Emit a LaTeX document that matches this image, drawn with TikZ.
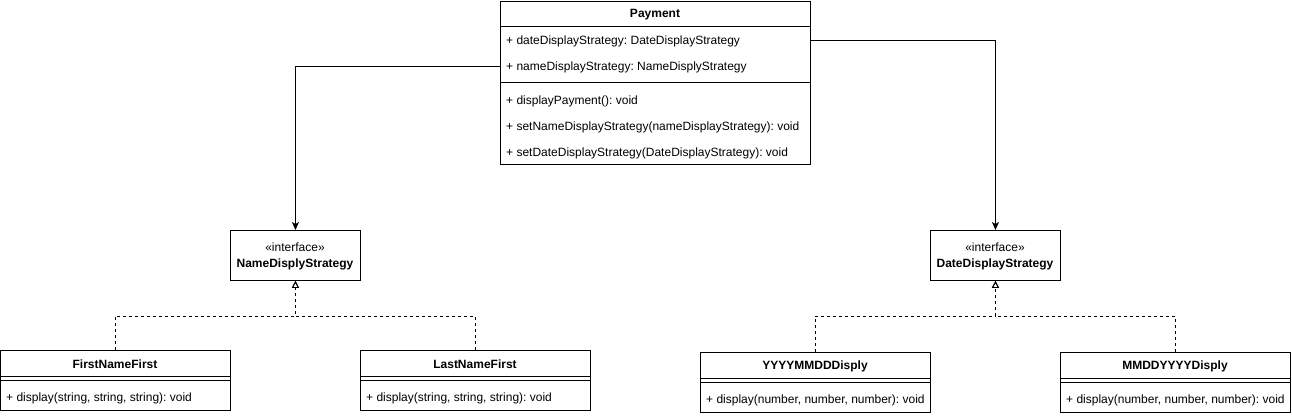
\documentclass[tikz,border=0pt]{standalone}
\usepackage{fontspec}
\setmainfont{Liberation Sans}
\usetikzlibrary{arrows.meta}
\frenchspacing
\begin{document}
\begin{tikzpicture}[x=1pt,y=-1pt,
  every node/.style={font=\fontsize{12}{13.5}\selectfont, inner sep=0pt},
  box/.style={draw, line width=0.9pt, anchor=north west, fill=white},
  sep/.style={line width=0.9pt},
  txt/.style={anchor=west},
  ttl/.style={font=\fontsize{12}{13.5}\selectfont\bfseries},
  assoc/.style={line width=0.9pt, -{Stealth[length=8pt,width=7pt,inset=2pt]}},
  realize/.style={line width=0.9pt, dashed, dash pattern=on 3pt off 3pt, -{Triangle[open,length=7pt,width=7pt]}}
]
\useasboundingbox (0,0) rectangle (1292,416);

% Payment class
\node[box, minimum width=310pt, minimum height=163.5pt] (pay) at (500,0.5) {};
\node[ttl] (payt) at (655,14.5) {Payment};
\draw[sep] (500,26) -- (810,26);
\node[txt] (pa1) at (506,41.5) {+ dateDisplayStrategy: DateDisplayStrategy};
\node[txt] (pa2) at (506,67.5) {+ nameDisplayStrategy: NameDisplyStrategy};
\draw[sep] (500,82) -- (810,82);
\node[txt] (pm1) at (506,101.5) {+ displayPayment(): void};
\node[txt] (pm2) at (506,127.5) {+ setNameDisplayStrategy(nameDisplayStrategy): void};
\node[txt] (pm3) at (506,153.5) {+ setDateDisplayStrategy(DateDisplayStrategy): void};

% Interfaces
\node[box, minimum width=130pt, minimum height=50pt] (nds) at (230,230) {};
\node[align=center] (ndst) at (295,256.5) {«interface»\\[2pt]\textbf{NameDisplyStrategy}};
\node[box, minimum width=130pt, minimum height=50pt] (dds) at (930,230) {};
\node[align=center] (ddst) at (995,256.5) {«interface»\\[2pt]\textbf{DateDisplayStrategy}};

% Concrete classes
\node[box, minimum width=230pt, minimum height=60pt] (ffn) at (0,350) {};
\node[ttl] (ffnt) at (115,364.5) {FirstNameFirst};
\draw[sep] (0,376) -- (230,376); \draw[sep] (0,380) -- (230,380);
\node[txt] (ffnm) at (6,398.5) {+ display(string, string, string): void};

\node[box, minimum width=230pt, minimum height=60pt] (lnf) at (360,350) {};
\node[ttl] (lnft) at (475,364.5) {LastNameFirst};
\draw[sep] (360,376) -- (590,376); \draw[sep] (360,380) -- (590,380);
\node[txt] (lnfm) at (366,398.5) {+ display(string, string, string): void};

\node[box, minimum width=230pt, minimum height=60pt] (ymd) at (700,352) {};
\node[ttl] (ymdt) at (815,366.5) {YYYYMMDDDisply};
\draw[sep] (700,378) -- (930,378); \draw[sep] (700,382) -- (930,382);
\node[txt] (ymdm) at (706,400.5) {+ display(number, number, number): void};

\node[box, minimum width=230pt, minimum height=60pt] (mdy) at (1060,352) {};
\node[ttl] (mdyt) at (1175,366.5) {MMDDYYYYDisply};
\draw[sep] (1060,378) -- (1290,378); \draw[sep] (1060,382) -- (1290,382);
\node[txt] (mdym) at (1066,400.5) {+ display(number, number, number): void};

% Associations
\coordinate (pn) at (500,66);
\coordinate (pd) at (810,40);
\draw[assoc] (pn) -| (nds.north);
\draw[assoc] (pd) -| (dds.north);

% Realizations
\draw[realize] (ffn.north) -- ++(0,-34) -| (nds.south);
\draw[realize] (lnf.north) -- ++(0,-34) -| (nds.south);
\draw[realize] (ymd.north) -- ++(0,-36) -| (dds.south);
\draw[realize] (mdy.north) -- ++(0,-36) -| (dds.south);
\end{tikzpicture}
\end{document}
